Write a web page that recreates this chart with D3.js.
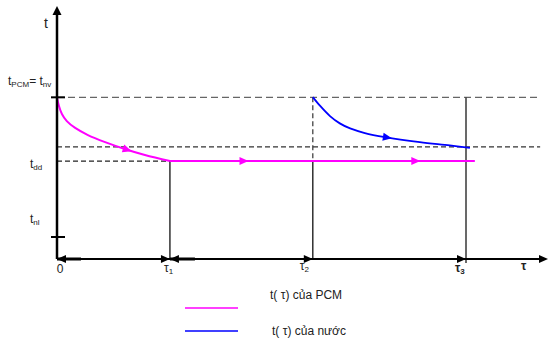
<!DOCTYPE html>
<html>
<head>
<meta charset="utf-8">
<script src="https://cdn.jsdelivr.net/npm/d3@7"></script>
<style>
  body { margin: 0; background: #fff; }
  svg { display: block; font-family: "Liberation Sans", "DejaVu Sans", sans-serif; }
</style>
</head>
<body>
<div id="chart"></div>
<script>
// thời điểm τ (đơn vị tùy ý)
const tauKeys = ["0", "τ1", "τ2", "τ3"];
const tauValues = [0, 2.3, 5.21, 8.33];

// các mức nhiệt độ
const tempLevels = { pcm: 63.9, nuocCuoi: 44.3, dd: 38.7, nl: 8.7 };

// đường t(τ) của PCM (đoạn cong)
const pcmTau = [0, 0.04, 0.1, 0.2, 0.37, 0.63, 0.98, 1.38, 1.79, 2.3];
const pcmTemp = [63.9, 60.5, 57.3, 54.5, 51.8, 49.0, 46.2, 43.5, 41.1, 38.7];
// đoạn nằm ngang của PCM
const pcmFlatTau = [2.3, 8.51];

// đường t(τ) của nước
const nuocTau = [5.21, 5.36, 5.56, 5.76, 5.97, 6.27, 6.68, 7.39, 8.0, 8.41];
const nuocTemp = [64.0, 60.5, 56.5, 53.6, 51.6, 49.8, 48.2, 46.2, 44.9, 43.9];

// vị trí mũi tên trên đường (theo τ)
const pcmArrowTau = [1.52];
const pcmFlatArrowTau = [3.9, 7.4];
const nuocArrowTau = [6.82];

const legendLabels = ["t( τ) của PCM", "t( τ) của nước"];
const colors = ["#ff00ff", "#0000ff"];

const width = 549, height = 338;

const svg = d3.select("#chart").append("svg")
    .attr("width", width)
    .attr("height", height);

const x = d3.scaleLinear().domain([0, 10]).range([57, 548]);
const y = d3.scaleLinear().domain([0, 100]).range([259, 6]);

const pcmData = pcmTau.map((t, i) => ({ tau: t, temp: pcmTemp[i] }));
const pcmFlat = pcmFlatTau.map(t => ({ tau: t, temp: tempLevels.dd }));
const nuocData = nuocTau.map((t, i) => ({ tau: t, temp: nuocTemp[i] }));

// hàm vẽ tam giác mũi tên
function arrowHead(g, tipX, tipY, angle, color, len = 8, w = 7) {
    g.append("path")
        .attr("d", `M0,0 L${-len},${-w / 2} L${-len},${w / 2} Z`)
        .attr("transform", `translate(${tipX},${tipY}) rotate(${angle})`)
        .attr("fill", color);
}

// đường nét đứt ngang
const dashEnd = x(9.84);
svg.append("line")
    .attr("x1", x(0)).attr("x2", dashEnd)
    .attr("y1", y(tempLevels.pcm)).attr("y2", y(tempLevels.pcm))
    .attr("stroke", "#666").attr("stroke-width", 1.3)
    .attr("stroke-dasharray", "7,4");
svg.append("line")
    .attr("x1", x(0)).attr("x2", dashEnd)
    .attr("y1", y(tempLevels.nuocCuoi)).attr("y2", y(tempLevels.nuocCuoi))
    .attr("stroke", "#333").attr("stroke-width", 1.2)
    .attr("stroke-dasharray", "5,3");
svg.append("line")
    .attr("x1", x(0)).attr("x2", x(tauValues[1]))
    .attr("y1", y(tempLevels.dd)).attr("y2", y(tempLevels.dd))
    .attr("stroke", "#222").attr("stroke-width", 1.2)
    .attr("stroke-dasharray", "5,3");

// đường dọc τ1, τ2, τ3
svg.append("line")
    .attr("x1", x(tauValues[1])).attr("x2", x(tauValues[1]))
    .attr("y1", y(tempLevels.dd)).attr("y2", y(0))
    .attr("stroke", "#111").attr("stroke-width", 1.3);
svg.append("line")
    .attr("x1", x(tauValues[2])).attr("x2", x(tauValues[2]))
    .attr("y1", y(tempLevels.pcm)).attr("y2", y(tempLevels.dd))
    .attr("stroke", "#333").attr("stroke-width", 1.2)
    .attr("stroke-dasharray", "5,3");
svg.append("line")
    .attr("x1", x(tauValues[2])).attr("x2", x(tauValues[2]))
    .attr("y1", y(tempLevels.dd)).attr("y2", y(0))
    .attr("stroke", "#111").attr("stroke-width", 1.3);
svg.append("line")
    .attr("x1", x(tauValues[3])).attr("x2", x(tauValues[3]))
    .attr("y1", y(tempLevels.pcm)).attr("y2", y(0) + 4)
    .attr("stroke", "#444").attr("stroke-width", 1.6);

// các đường cong
const line = d3.line()
    .x(d => x(d.tau))
    .y(d => y(d.temp))
    .curve(d3.curveCatmullRom.alpha(0.5));

const pcmPath = svg.append("path")
    .datum(pcmData)
    .attr("d", line)
    .attr("fill", "none")
    .attr("stroke", colors[0])
    .attr("stroke-width", 2);

const pcmFlatPath = svg.append("path")
    .datum(pcmFlat)
    .attr("d", d3.line().x(d => x(d.tau)).y(d => y(d.temp)))
    .attr("fill", "none")
    .attr("stroke", colors[0])
    .attr("stroke-width", 2);

const nuocPath = svg.append("path")
    .datum(nuocData)
    .attr("d", line)
    .attr("fill", "none")
    .attr("stroke", colors[1])
    .attr("stroke-width", 1.8);

// mũi tên theo hướng đường
function arrowsOnPath(pathSel, taus, color) {
    const node = pathSel.node();
    const total = node.getTotalLength();
    taus.forEach(t => {
        const px = x(t);
        let lo = 0, hi = total;
        for (let i = 0; i < 40; i++) {
            const mid = (lo + hi) / 2;
            if (node.getPointAtLength(mid).x < px) lo = mid; else hi = mid;
        }
        const p = node.getPointAtLength(lo);
        const p0 = node.getPointAtLength(Math.max(0, lo - 3));
        const ang = Math.atan2(p.y - p0.y, p.x - p0.x) * 180 / Math.PI;
        arrowHead(svg, p.x, p.y, ang, color, 9, 8);
    });
}
arrowsOnPath(pcmPath, pcmArrowTau, colors[0]);
arrowsOnPath(pcmFlatPath, pcmFlatArrowTau, colors[0]);
arrowsOnPath(nuocPath, nuocArrowTau, colors[1]);

// trục t
svg.append("line")
    .attr("x1", x(0)).attr("x2", x(0))
    .attr("y1", y(0)).attr("y2", y(100) + 6)
    .attr("stroke", "#000").attr("stroke-width", 2.5);
arrowHead(svg, x(0), y(100), -90, "#000", 9, 9);

// vạch trên trục t
[tempLevels.pcm, tempLevels.nl].forEach(v => {
    svg.append("line")
        .attr("x1", x(0) - 6).attr("x2", x(0) + 8)
        .attr("y1", y(v)).attr("y2", y(v))
        .attr("stroke", "#000").attr("stroke-width", 2);
});

// trục τ
svg.append("line")
    .attr("x1", x(0)).attr("x2", x(10) - 4)
    .attr("y1", y(0)).attr("y2", y(0))
    .attr("stroke", "#000").attr("stroke-width", 2);
// đoạn đậm của các mũi tên ngược
[[x(0), x(0) + 24], [x(tauValues[1]), x(tauValues[1]) + 25]].forEach(([a, b]) => {
    svg.append("line")
        .attr("x1", a).attr("x2", b)
        .attr("y1", y(0)).attr("y2", y(0))
        .attr("stroke", "#000").attr("stroke-width", 3);
    arrowHead(svg, a, y(0), 180, "#000", 9, 8);
});
[tauValues[1], tauValues[2], tauValues[3]].forEach(t => {
    arrowHead(svg, x(t), y(0), 0, "#000", 9, 8);
});
arrowHead(svg, x(10), y(0), 0, "#000", 9, 8);

// nhãn trục
function subText(px, py, main, sub, size, subSize, weight) {
    const tx = svg.append("text")
        .attr("x", px).attr("y", py)
        .attr("font-size", size)
        .attr("font-weight", weight || "normal")
        .attr("fill", "#222");
    tx.append("tspan").text(main);
    if (sub) tx.append("tspan").attr("dy", 2).attr("font-size", subSize).text(sub);
    return tx;
}

svg.append("text").attr("x", 44).attr("y", 28)
    .attr("font-size", 14).attr("fill", "#222").text("t");

const tpcm = svg.append("text").attr("x", 8).attr("y", 85)
    .attr("font-size", 12).attr("fill", "#222");
tpcm.append("tspan").text("t");
tpcm.append("tspan").attr("dy", 2).attr("font-size", 8).text("PCM");
tpcm.append("tspan").attr("dy", -2).text("=  t");
tpcm.append("tspan").attr("dy", 2).attr("font-size", 8).text("nv");

subText(30, 168, "t", "dd", 12, 8);
subText(30, 223, "t", "nl", 12, 8);

svg.append("text").attr("x", x(0) + 3).attr("y", 273)
    .attr("text-anchor", "middle").attr("font-size", 12).attr("fill", "#222")
    .text(tauKeys[0]);
subText(x(tauValues[1]) - 6, 272, "τ", "1", 12, 8);
subText(x(tauValues[2]) - 13, 270, "τ", "2", 12, 8);
subText(x(tauValues[3]) - 11, 272, "τ", "3", 12, 8, "bold");
svg.append("text").attr("x", 521).attr("y", 270)
    .attr("font-size", 12).attr("font-weight", "bold").attr("fill", "#222")
    .text("τ");

// chú thích
const legendY = [308, 331];
const legendTextY = [299, 335];
const legendTextX = [270, 272];
legendLabels.forEach((lab, i) => {
    svg.append("line")
        .attr("x1", 185).attr("x2", 238)
        .attr("y1", legendY[i]).attr("y2", legendY[i])
        .attr("stroke", colors[i]).attr("stroke-width", 1.6);
    svg.append("text")
        .attr("x", legendTextX[i]).attr("y", legendTextY[i])
        .attr("font-size", 12).attr("fill", "#222")
        .text(lab);
});
</script>
</body>
</html>
